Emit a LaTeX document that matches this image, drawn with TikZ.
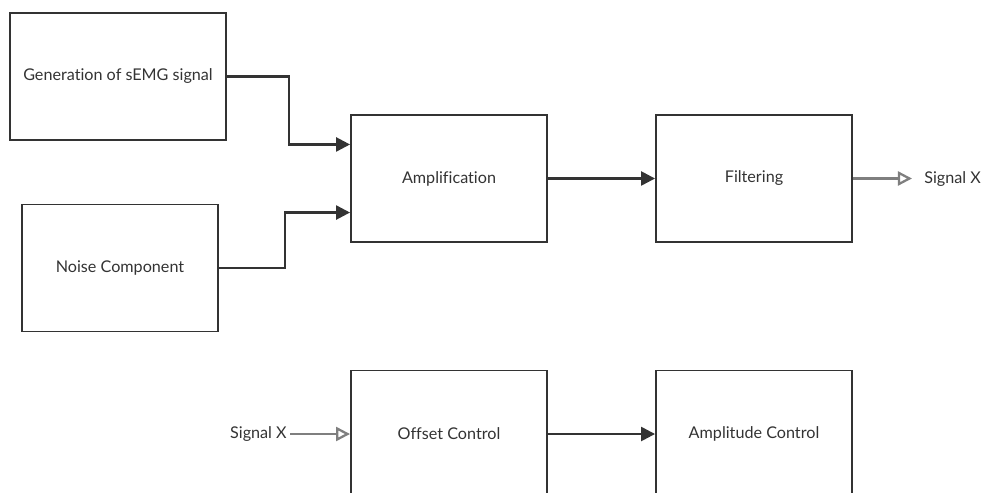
\documentclass[tikz,border=0pt]{standalone}
\usepackage{fontspec}
\setmainfont{Lato}[Ligatures={NoCommon,NoRequired,NoContextual}]
\usetikzlibrary{arrows.meta,calc}
\definecolor{ink}{HTML}{333333}
\definecolor{sig}{HTML}{7F7F7F}

\begin{document}
\begin{tikzpicture}[x=0.02cm,y=-0.02cm,
  block/.style={draw=ink, line width=1.1pt, minimum width=3.92cm, minimum height=2.54cm,
    inner sep=0pt, font=\fontsize{9.2}{11}\selectfont, text=ink},
  link/.style={draw=ink, line width=1.4pt, -{Triangle[length=8pt,width=8pt]}},
  sigline/.style={draw=sig, line width=1.3pt, -{Triangle[open,length=8pt,width=8pt]}},
  siglabel/.style={inner sep=0pt, font=\fontsize{9.2}{11}\selectfont, text=ink}]
\clip (0,0) rectangle (983,493);
% blocks
\node[block, minimum width=4.32cm] (gen) at (118,76.5) {Generation of sEMG signal};
\node[block] (noise) at (120,268) {Noise Component};
\node[block] (amp) at (449,178.5) {Amplification};
\node[block] (filt) at (754,178.5) {Filtering};
\node[block] (off) at (449,434) {Offset Control};
\node[block] (ampc) at (754,434) {Amplitude Control};
% input points on amplification
\coordinate (in1) at ($(amp.north west)!0.236!(amp.south west)$);
\coordinate (in2) at ($(amp.north west)!0.764!(amp.south west)$);
% connectors
\draw[link] (gen.east) -- ++(62,0) |- (in1);
\draw[link] (noise.east) -- ++(66,0) |- (in2);
\draw[link] (amp.east) -- (filt.west);
\draw[link] (off.east) -- (ampc.west);
% signal X
\node[siglabel, anchor=west] (sigout) at (924,179) {Signal X};
\draw[sigline, shorten >=0.24cm] (filt.east) -- (filt.east -| sigout.west);
\node[siglabel, anchor=east] (sigin) at (287,434) {Signal X};
\draw[sigline, shorten <=0.06cm] (sigin.east) -- (off.west);
\end{tikzpicture}
\end{document}
